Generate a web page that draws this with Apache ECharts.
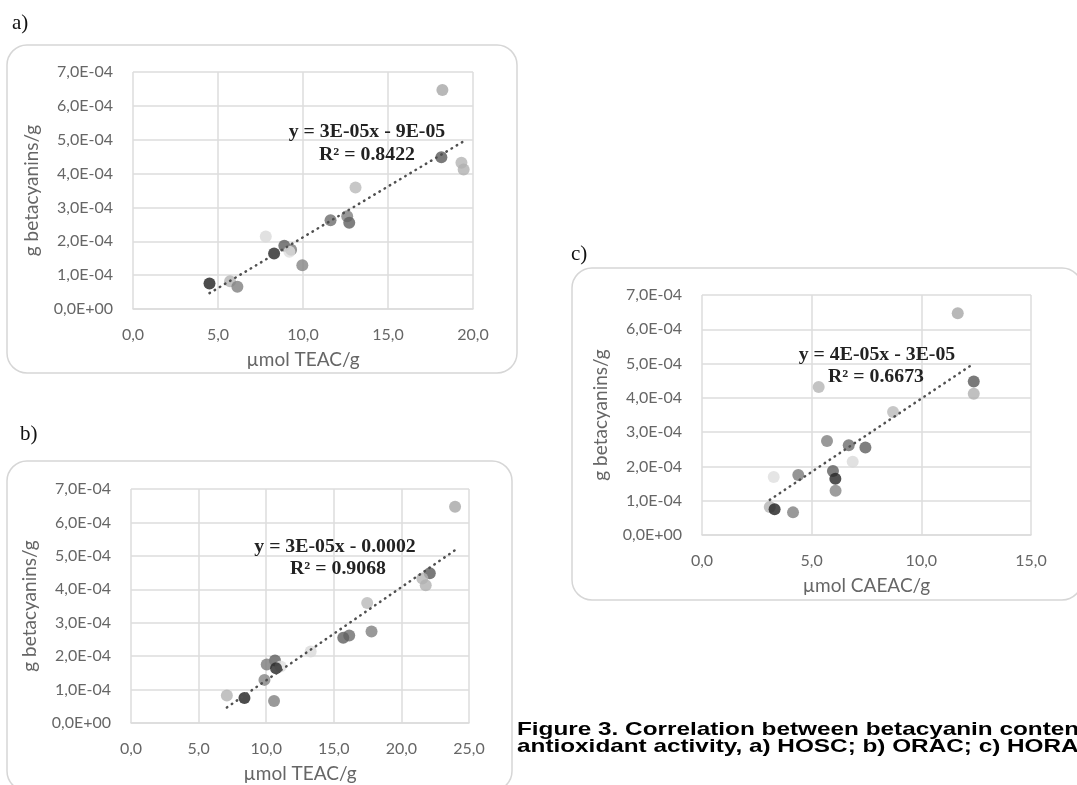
<!DOCTYPE html>
<html>
<head>
<meta charset="utf-8">
<script src="https://cdn.jsdelivr.net/npm/echarts@6.0.0/dist/echarts.min.js"></script>
<style>
  html, body { margin: 0; padding: 0; background: #fff; }
  #fig { width: 1077px; height: 785px; }
</style>
</head>
<body>
<div id="fig"></div>
<script>
// betacyanin content of each sample (g/g), same samples in all three panels
const betacyanin = [6.47e-4, 4.48e-4, 4.32e-4, 4.12e-4, 3.59e-4, 2.74e-4, 2.62e-4, 2.55e-4, 2.14e-4,
                    1.87e-4, 1.75e-4, 1.69e-4, 1.64e-4, 1.29e-4, 0.82e-4, 0.75e-4, 0.66e-4];
// a) HOSC, µmol TEAC/g
const hoscTEAC = [18.2, 18.14, 19.32, 19.45, 13.09, 12.6, 11.62, 12.72, 7.81,
                  8.9, 9.3, 9.2, 8.3, 9.96, 5.71, 4.5, 6.14];
// b) ORAC, µmol TEAC/g
const oracTEAC = [23.97, 22.1, 21.55, 21.8, 17.47, 17.79, 16.14, 15.7, 13.29,
                  10.65, 10.04, 11.07, 10.73, 9.87, 7.09, 8.39, 10.58];
// c) HORAC, µmol CAEAC/g
const horacCAEAC = [11.66, 12.39, 5.32, 12.39, 8.71, 5.7, 6.69, 7.45, 6.87,
                    5.97, 4.39, 3.27, 6.08, 6.09, 3.09, 3.31, 4.15];

const yTicks = [0, 7e-4, 1e-4];
const equations = {
    a: ["y = 3E-05x - 9E-05", "R² = 0.8422"],
    b: ["y = 3E-05x - 0.0002", "R² = 0.9068"],
    c: ["y = 4E-05x - 3E-05", "R² = 0.6673"]
};
const captionLines = [
    "Figure 3. Correlation between betacyanin content and",
    "antioxidant activity, a) HOSC; b) ORAC; c) HORAC"
];

// marker shade per sample (the figure is greyscale)
const shades = ['#a6a6a6', '#595959', '#b4b4b4', '#b0b0b0', '#b9b9b9', '#7f7f7f', '#6d6d6d', '#5f5f5f', '#d9d9d9',
                '#5e5e5e', '#7a7a7a', '#dedede', '#262626', '#858585', '#b3b3b3', '#1f1f1f', '#808080'];

const tickColor = '#666';
const gridColor = '#dcdcdc';
const axisFont = 'Lato';

const fmtY = (v) => {
    if (Math.abs(v) < 1e-12) return '0,0E+00';
    const e = Math.floor(Math.log10(Math.abs(v)) + 1e-9);
    const m = v / Math.pow(10, e);
    return m.toFixed(1).replace('.', ',') + 'E' + (e < 0 ? '-' : '+') + String(Math.abs(e)).padStart(2, '0');
};
const fmtX = (v) => v.toFixed(1).replace('.', ',');

// least squares trend line, drawn over the data's x range (as Excel does)
const trendLine = (xs, ys) => {
    const n = xs.length;
    const mx = xs.reduce((s, v) => s + v, 0) / n;
    const my = ys.reduce((s, v) => s + v, 0) / n;
    let sxy = 0, sxx = 0;
    xs.forEach((x, i) => { sxy += (x - mx) * (ys[i] - my); sxx += (x - mx) * (x - mx); });
    const k = sxy / sxx, b = my - k * mx;
    const x0 = Math.min(...xs), x1 = Math.max(...xs);
    return [[x0, k * x0 + b], [x1, k * x1 + b]];
};

const panels = [
    { xs: hoscTEAC, xMax: 20, xName: 'µmol TEAC/g', grid: { left: 133, top: 72, width: 340, height: 237 } },
    { xs: oracTEAC, xMax: 25, xName: 'µmol TEAC/g', grid: { left: 131, top: 489, width: 338, height: 234 } },
    { xs: horacCAEAC, xMax: 15, xName: 'µmol CAEAC/g', grid: { left: 702, top: 295, width: 329, height: 240 } }
];

const chart = echarts.init(document.getElementById('fig'), null, { renderer: 'canvas' });

const series = [];
panels.forEach((p, i) => {
    series.push({
        type: 'scatter',
        xAxisIndex: i,
        yAxisIndex: i,
        symbolSize: 12,
        z: 2,
        data: p.xs.map((x, j) => ({ value: [x, betacyanin[j]], itemStyle: { color: shades[j] } }))
    });
    series.push({
        type: 'line',
        xAxisIndex: i,
        yAxisIndex: i,
        symbol: 'none',
        z: 3,
        lineStyle: { color: '#505050', width: 2.5, type: [0.5, 5.5], cap: 'round' },
        data: trendLine(p.xs, betacyanin)
    });
});

const box = (x, y, w, h) => ({
    type: 'rect',
    shape: { x: x, y: y, width: w, height: h, r: 20 },
    style: { fill: 'none', stroke: '#d6d6d6', lineWidth: 1.5 },
    silent: true,
    z: 0
});
// the source figure is slightly stretched sideways, hence sx
const txt = (x, y, text, font, color, align, sx) => ({
    type: 'text',
    x: x,
    y: y,
    scaleX: sx || 1,
    silent: true,
    z: 10,
    style: { text: text, font: font, fill: color, textAlign: align || 'center', textVerticalAlign: 'middle' }
});
const eqFont = 'bold 18px "Liberation Serif"';
const tagFont = '21px "Liberation Serif"';
const capFont = 'bold 19px "Liberation Sans"';
const eqSx = 1.1;

const graphics = [
    box(7, 45, 510, 328),
    box(7, 461, 505, 330),
    box(572, 268, 510, 332),
    txt(12, 23, 'a)', tagFont, '#111', 'left'),
    txt(20, 434, 'b)', tagFont, '#111', 'left'),
    txt(571, 254, 'c)', tagFont, '#111', 'left'),
    txt(367, 132, equations.a[0], eqFont, '#222', 'center', eqSx),
    txt(367, 155, equations.a[1], eqFont, '#222', 'center', eqSx),
    txt(335, 547, equations.b[0], eqFont, '#222', 'center', eqSx),
    txt(338, 569, equations.b[1], eqFont, '#222', 'center', eqSx),
    txt(877, 355, equations.c[0], eqFont, '#222', 'center', eqSx),
    txt(876, 377, equations.c[1], eqFont, '#222', 'center', eqSx),
    txt(517, 730, captionLines[0], capFont, '#000', 'left', 1.28),
    txt(517, 747, captionLines[1], capFont, '#000', 'left', 1.28)
];

const option = {
    animation: false,
    backgroundColor: '#fff',
    grid: panels.map(p => Object.assign({ containLabel: false }, p.grid)),
    xAxis: panels.map((p, i) => ({
        type: 'value',
        gridIndex: i,
        min: 0,
        max: p.xMax,
        interval: 5,
        name: p.xName,
        nameLocation: 'middle',
        nameGap: 41,
        nameTextStyle: { fontFamily: axisFont, fontSize: 19, color: tickColor },
        axisLine: { show: true, lineStyle: { color: gridColor, width: 1.5 } },
        axisTick: { show: false },
        splitLine: { show: true, lineStyle: { color: gridColor, width: 1.5 } },
        axisLabel: { margin: 18, fontFamily: axisFont, fontSize: 16, color: tickColor, formatter: fmtX }
    })),
    yAxis: panels.map((p, i) => ({
        type: 'value',
        gridIndex: i,
        min: yTicks[0],
        max: yTicks[1],
        interval: yTicks[2],
        name: 'g betacyanins/g',
        nameLocation: 'middle',
        nameGap: 92,
        nameTextStyle: { fontFamily: axisFont, fontSize: 19, color: tickColor },
        axisLine: { show: false },
        axisTick: { show: false },
        splitLine: { show: true, lineStyle: { color: gridColor, width: 1.5 } },
        axisLabel: { margin: 20, fontFamily: axisFont, fontSize: 16, color: tickColor, formatter: fmtY }
    })),
    graphic: graphics,
    series: series
};

chart.setOption(option);
</script>
</body>
</html>
